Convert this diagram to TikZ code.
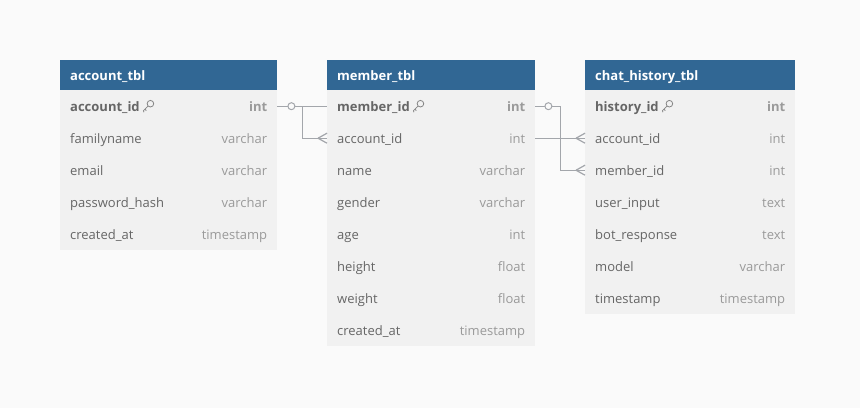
\documentclass[tikz,border=0pt]{standalone}
\usepackage{fontspec}
\setmainfont{Open Sans}
\usetikzlibrary{positioning,backgrounds}

\definecolor{hdrblue}{HTML}{316794}
\definecolor{rowgray}{HTML}{F1F1F1}
\definecolor{pagegray}{HTML}{FAFAFA}
\definecolor{fieldgray}{HTML}{666666}
\definecolor{typegray}{HTML}{9A9A9A}
\definecolor{linkgray}{HTML}{A3A6AB}

\pgfdeclarelayer{canvas}
\pgfsetlayers{canvas,background,main}

\def\tblfont{\fontsize{13}{16}\selectfont}
\tikzset{tblhead/.style={fill=hdrblue, inner sep=0, minimum height=30, anchor=north west},
    tblrow/.style={fill=rowgray, inner sep=0, minimum height=32, anchor=north west},
    headtext/.style={text=white, font=\tblfont\bfseries, anchor=west, inner sep=0, text height=12, text depth=2},
    fieldtext/.style={text=fieldgray, font=\tblfont, anchor=west, inner sep=0, text height=12, text depth=2},
    typetext/.style={text=typegray, font=\tblfont, anchor=east, inner sep=0, text height=12, text depth=2},
    pkfield/.style={font=\tblfont\bfseries},
    link/.style={draw=linkgray, line width=1.2},
    keyline/.style={draw=fieldgray!80, line width=0.8},
    onemark/.style={circle, draw=linkgray, fill=pagegray, line width=1, inner sep=0, minimum size=7}}

% key icon after a primary key
\newcommand\pkkey[1]{%
  \begin{scope}[shift={#1}]
    \draw[keyline] (7.5,-2.5) circle (3.3);
    \draw[keyline] (5.2,-0.2) -- (0.5,4.5) -- (1,6) (2,3) -- (3.4,4.4);
  \end{scope}}

% crow's foot at the west side of a row
\newcommand\crowfoot[1]{%
  \draw[link] ([xshift=-9]#1.west) -- ([yshift=5]#1.west)
              ([xshift=-9]#1.west) -- ([yshift=-5]#1.west);}

% name, left x, width, title, rows
\newcommand\dbtable[5]{%
  \node[tblhead, minimum width=#3] (#1) at (#2,60) {};
  \node[headtext] at ([xshift=10]#1.west) {#4};
  \foreach [count=\i] \fname/\ftype in {#5} {
    \node[tblrow, minimum width=#3] (#1-\i) at (#2,{58+32*\i}) {};
    \ifnum\i=1
      \node[fieldtext, pkfield] (#1-\i-name) at ([xshift=10]#1-\i.west) {\fname};
      \node[typetext, pkfield] at ([xshift=-10]#1-\i.east) {\ftype};
      \pkkey{([xshift=3]#1-\i-name.east)}
    \else
      \node[fieldtext] at ([xshift=10]#1-\i.west) {\fname};
      \node[typetext] at ([xshift=-10]#1-\i.east) {\ftype};
    \fi
  }}

\begin{document}
\begin{tikzpicture}[x=1pt, y=-1pt]
  \useasboundingbox (0,0) rectangle (860,408);
  \begin{pgfonlayer}{canvas}
    \fill[pagegray] (0,0) rectangle (860,408);
  \end{pgfonlayer}

  \dbtable{acc}{60}{217}{account\_tbl}{account\_id/int, familyname/varchar,
    email/varchar, password\_hash/varchar, created\_at/timestamp}
  \dbtable{mem}{327}{208}{member\_tbl}{member\_id/int, account\_id/int,
    name/varchar, gender/varchar, age/int, height/float, weight/float,
    created\_at/timestamp}
  \dbtable{chat}{585}{210}{chat\_history\_tbl}{history\_id/int, account\_id/int,
    member\_id/int, user\_input/text, bot\_response/text, model/varchar,
    timestamp/timestamp}

  \begin{scope}[on background layer]
    \draw[link] (acc-1.east) -- (mem-1.center) |- (chat-2.west);
    \draw[link] (acc-1.east) -- ++(25,0) |- (mem-2.west);
    \draw[link] (mem-1.east) -- ++(25,0) |- (chat-3.west);
  \end{scope}

  \node[onemark] at ([xshift=14]acc-1.east) {};
  \node[onemark] at ([xshift=13]mem-1.east) {};
  \crowfoot{mem-2}
  \crowfoot{chat-2}
  \crowfoot{chat-3}
\end{tikzpicture}
\end{document}
